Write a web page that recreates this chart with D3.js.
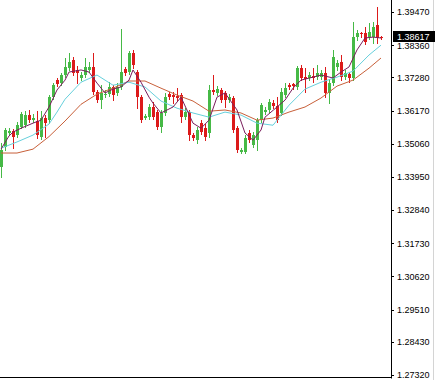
<!DOCTYPE html>
<html><head><meta charset="utf-8">
<script src="https://cdn.jsdelivr.net/npm/d3@7/dist/d3.min.js"></script>
<style>html,body{margin:0;padding:0;background:#fff;overflow:hidden}</style>
</head><body>
<svg id="c" width="435" height="380"></svg>
<script>
// OHLC data, one value per candle (index 0..95)
const open  = [1.3428,1.3495,1.3542,1.3548,1.3535,1.3562,1.3568,1.3602,1.3585,1.3582,1.3528,1.3592,1.3585,1.3662,1.3719,1.3709,1.3736,1.3759,1.3786,1.3753,1.3726,1.3736,1.3753,1.3763,1.3679,1.3652,1.3669,1.3672,1.3696,1.3676,1.3696,1.3756,1.3746,1.3810,1.3746,1.3662,1.3592,1.3595,1.3629,1.3612,1.3562,1.3609,1.3672,1.3669,1.3666,1.3669,1.3595,1.3612,1.3535,1.3518,1.3575,1.3558,1.3542,1.3686,1.3676,1.3686,1.3676,1.3652,1.3659,1.3558,1.3478,1.3478,1.3542,1.3501,1.3518,1.3585,1.3612,1.3619,1.3642,1.3632,1.3609,1.3669,1.3702,1.3706,1.3696,1.3759,1.3729,1.3726,1.3733,1.3729,1.3729,1.3743,1.3676,1.3709,1.3763,1.3780,1.3729,1.3739,1.3726,1.3863,1.3877,1.3877,1.3863,1.3863,1.3903,1.3863];
const high  = [1.3508,1.3558,1.3558,1.3555,1.3578,1.3612,1.3615,1.3619,1.3605,1.3615,1.3615,1.3602,1.3669,1.3709,1.3726,1.3743,1.3793,1.3810,1.3796,1.3766,1.3746,1.3793,1.3780,1.3810,1.3686,1.3702,1.3686,1.3712,1.3702,1.3709,1.3890,1.3763,1.3816,1.3820,1.3753,1.3669,1.3605,1.3639,1.3646,1.3619,1.3619,1.3676,1.3679,1.3679,1.3692,1.3676,1.3625,1.3619,1.3542,1.3562,1.3585,1.3572,1.3702,1.3736,1.3699,1.3692,1.3682,1.3672,1.3666,1.3565,1.3491,1.3535,1.3552,1.3545,1.3592,1.3642,1.3629,1.3656,1.3652,1.3662,1.3692,1.3709,1.3709,1.3709,1.3766,1.3769,1.3759,1.3746,1.3759,1.3769,1.3753,1.3763,1.3719,1.3820,1.3786,1.3803,1.3753,1.3746,1.3914,1.3887,1.3880,1.3897,1.3910,1.3914,1.3964,1.3867];
const low   = [1.3394,1.3485,1.3535,1.3491,1.3528,1.3558,1.3562,1.3578,1.3578,1.3525,1.3522,1.3528,1.3575,1.3656,1.3699,1.3702,1.3729,1.3753,1.3736,1.3709,1.3719,1.3729,1.3746,1.3672,1.3646,1.3625,1.3662,1.3666,1.3652,1.3669,1.3689,1.3736,1.3739,1.3759,1.3625,1.3578,1.3589,1.3589,1.3589,1.3555,1.3545,1.3602,1.3656,1.3642,1.3652,1.3578,1.3589,1.3518,1.3518,1.3508,1.3538,1.3518,1.3528,1.3672,1.3669,1.3646,1.3629,1.3646,1.3545,1.3478,1.3475,1.3475,1.3512,1.3495,1.3485,1.3578,1.3605,1.3612,1.3625,1.3578,1.3602,1.3662,1.3689,1.3689,1.3689,1.3719,1.3679,1.3719,1.3712,1.3723,1.3723,1.3662,1.3642,1.3702,1.3753,1.3719,1.3723,1.3712,1.3719,1.3853,1.3863,1.3840,1.3857,1.3843,1.3843,1.3857];
const close = [1.3485,1.3552,1.3548,1.3528,1.3568,1.3605,1.3602,1.3585,1.3592,1.3535,1.3592,1.3575,1.3662,1.3702,1.3706,1.3736,1.3763,1.3780,1.3743,1.3743,1.3736,1.3763,1.3763,1.3679,1.3652,1.3676,1.3672,1.3696,1.3669,1.3696,1.3746,1.3743,1.3810,1.3769,1.3662,1.3585,1.3599,1.3629,1.3595,1.3562,1.3609,1.3662,1.3662,1.3662,1.3659,1.3595,1.3612,1.3535,1.3525,1.3552,1.3545,1.3528,1.3686,1.3679,1.3689,1.3652,1.3652,1.3662,1.3552,1.3485,1.3485,1.3525,1.3518,1.3535,1.3585,1.3635,1.3619,1.3646,1.3632,1.3585,1.3679,1.3692,1.3696,1.3699,1.3759,1.3726,1.3723,1.3736,1.3726,1.3743,1.3743,1.3676,1.3709,1.3796,1.3776,1.3729,1.3743,1.3726,1.3863,1.3877,1.3873,1.3847,1.3880,1.3897,1.3860,1.38617];

// Moving averages (candle index, price)
const fastIdx = [0,2,3,5,8,10,12,14,16,17,20,22,24,26,28,30,32,33,35,37,38,40,43,45,48,50,52,54,56,59,61,63,65,66,69,71,73,75,78,80,83,85,87,89,91,93,95];
const fastMA  = [1.3488,1.3532,1.3545,1.3558,1.3575,1.3585,1.3629,1.3686,1.3719,1.3746,1.3753,1.3746,1.3709,1.3676,1.3689,1.3696,1.3719,1.3753,1.3712,1.3662,1.3642,1.3609,1.3629,1.3662,1.3575,1.3558,1.3585,1.3662,1.3676,1.3619,1.3542,1.3518,1.3552,1.3595,1.3629,1.3652,1.3692,1.3719,1.3729,1.3736,1.3726,1.3746,1.3763,1.3820,1.3860,1.3863,1.3860];
const midIdx  = [0,4,8,12,14,16,20,24,28,32,36,40,44,48,52,56,60,64,68,72,76,80,84,88,92,95];
const midMA   = [1.3491,1.3512,1.3535,1.3572,1.3612,1.3655,1.3712,1.3736,1.3702,1.3712,1.3696,1.3649,1.3625,1.3609,1.3595,1.3612,1.3602,1.3575,1.3568,1.3635,1.3689,1.3712,1.3729,1.3749,1.3803,1.3836];
const slowIdx = [0,4,8,12,16,20,24,28,32,36,40,44,48,52,56,60,64,68,72,76,80,84,88,92,95];
const slowMA  = [1.3475,1.3475,1.3488,1.3530,1.3582,1.3638,1.3672,1.3692,1.3716,1.3716,1.3692,1.3669,1.3649,1.3615,1.3619,1.3609,1.3585,1.3592,1.3612,1.3629,1.3659,1.3699,1.3719,1.3759,1.3793];

const tickValues = [1.39470,1.38360,1.37280,1.36170,1.35060,1.33950,1.32840,1.31730,1.30620,1.29510,1.28430,1.27320];
const lastPrice = 1.38617;

const svg = d3.select("#c");
const x = d3.scaleLinear().domain([0, 95]).range([1, 381]);
const y = d3.scaleLinear().domain([1.27320, 1.39470]).range([375, 12]);

const GREEN = "#46b946", RED = "#dc1a1a";
const candles = d3.range(open.length).map(i => ({i, o:open[i], h:high[i], l:low[i], c:close[i]}));

const g = svg.append("g");
// wicks
g.selectAll("line.w").data(candles).enter().append("line")
  .attr("x1", d => Math.round(x(d.i)) + 0.5).attr("x2", d => Math.round(x(d.i)) + 0.5)
  .attr("y1", d => Math.round(y(d.h))).attr("y2", d => Math.round(y(d.l)) + 1)
  .attr("stroke", d => d.c >= d.o ? GREEN : RED).attr("stroke-width", 1)
  .attr("shape-rendering", "crispEdges");
// bodies
g.selectAll("rect.b").data(candles).enter().append("rect")
  .attr("x", d => Math.round(x(d.i)) - 1)
  .attr("width", 3)
  .attr("y", d => Math.round(y(Math.max(d.o, d.c))))
  .attr("height", d => Math.max(1, Math.round(y(Math.min(d.o, d.c))) - Math.round(y(Math.max(d.o, d.c)))))
  .attr("fill", d => d.c >= d.o ? GREEN : RED)
  .attr("shape-rendering", "crispEdges");

// moving averages
const line = d3.line().x(d => x(d[0])).y(d => y(d[1]));
function drawMA(idx, vals, color) {
  svg.append("path").datum(idx.map((k, j) => [k, vals[j]]))
    .attr("d", line).attr("fill", "none").attr("stroke", color).attr("stroke-width", 1);
}
drawMA(slowIdx, slowMA, "#c8603a");
drawMA(midIdx, midMA, "#66d0dc");
drawMA(fastIdx, fastMA, "#7a1d5c");

// frame
svg.append("line").attr("x1", 433.5).attr("x2", 433.5).attr("y1", 0).attr("y2", 380)
  .attr("stroke", "#d4d4d4").attr("stroke-width", 1);
svg.append("line").attr("x1", 391.5).attr("x2", 391.5).attr("y1", 0).attr("y2", 378.5)
  .attr("stroke", "#000").attr("stroke-width", 1);
svg.append("line").attr("x1", 0).attr("x2", 392).attr("y1", 377.5).attr("y2", 377.5)
  .attr("stroke", "#000").attr("stroke-width", 1);

// right axis
const axis = d3.axisRight(y).tickValues(tickValues).tickSize(3).tickPadding(3)
  .tickFormat(d3.format(".5f"));
const ax = svg.append("g").attr("transform", "translate(391,0)").call(axis);
ax.select(".domain").remove();
ax.selectAll(".tick line").attr("stroke", "#000").attr("shape-rendering", "crispEdges");
ax.selectAll(".tick text").attr("fill", "#000")
  .style("font-family", "'Liberation Sans', Arial, sans-serif").style("font-size", "9px");

// current price label
const py = y(lastPrice);
svg.append("rect").attr("x", 393).attr("y", Math.round(py) - 6).attr("width", 42).attr("height", 11).attr("fill", "#000");
svg.append("text").attr("x", 397).attr("y", py - 0.5).attr("dy", "0.35em")
  .attr("fill", "#fff").style("font-family", "'Liberation Sans', Arial, sans-serif").style("font-size", "9px")
  .text(d3.format(".5f")(lastPrice));
</script>
</body></html>
